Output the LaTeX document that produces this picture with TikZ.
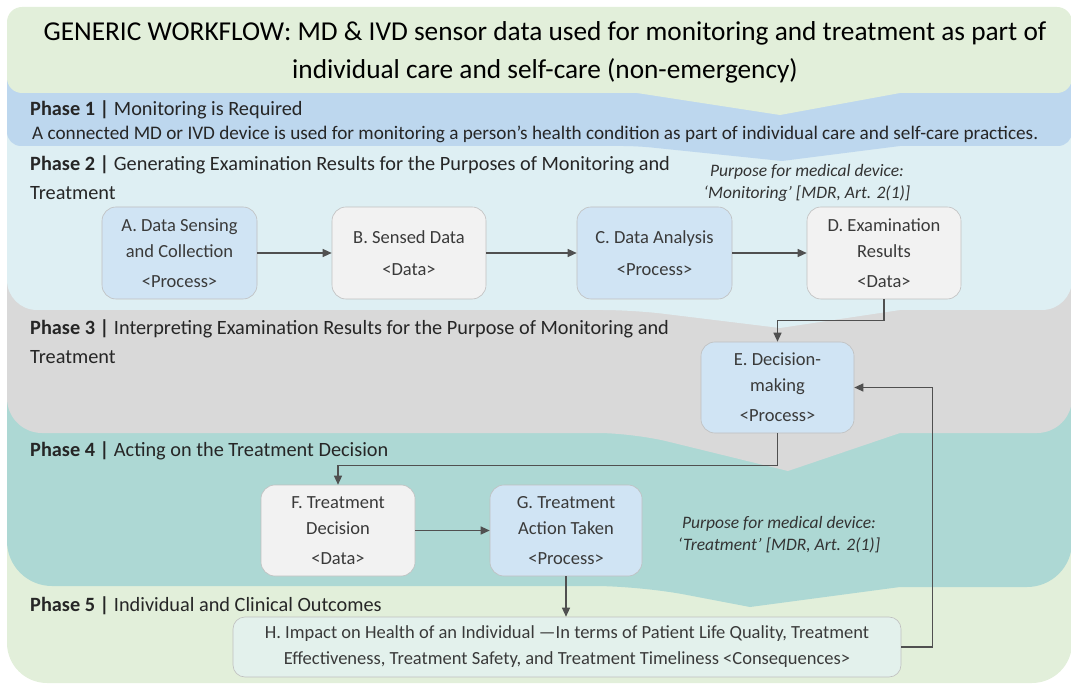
\documentclass[tikz,border=0pt]{standalone}
\usepackage{fontspec}
\setmainfont{Carlito}
\usetikzlibrary{arrows.meta}
\definecolor{cGreen}{HTML}{E2EFDA}
\definecolor{cBlue}{HTML}{BDD7EE}
\definecolor{cCyan}{HTML}{DEEFF3}
\definecolor{cGray}{HTML}{D9D9D9}
\definecolor{cTeal}{HTML}{ADD8D4}
\definecolor{cProc}{HTML}{D0E4F4}
\definecolor{cData}{HTML}{F2F2F2}
\definecolor{cImpact}{HTML}{E3F1EC}
\definecolor{cBorder}{HTML}{BFBFBF}
\definecolor{cText}{HTML}{3A3A3A}
\definecolor{cLine}{HTML}{505050}
\begin{document}
\begin{tikzpicture}[x=1pt,y=-1pt,
  box/.style={draw=cBorder, line width=0.6pt, rounded corners=14pt, align=center, text=cText,
    font=\fontsize{18.5}{26}\selectfont, inner sep=0pt},
  proc/.style={box, fill=cProc},
  datbox/.style={box, fill=cData},
  lbl/.style={inner sep=0pt, text=black!85, font=\fontsize{20.3}{29}\selectfont, align=left},
  desc/.style={inner sep=0pt, text=black!85, font=\fontsize{19.2}{22}\selectfont},
  purpose/.style={inner sep=0pt, text=black!80, align=center, font=\fontsize{17.5}{22}\selectfont\itshape},
  arr/.style={draw=cLine, line width=1.2pt, -{Triangle[length=9pt,width=8pt]}}
]
\useasboundingbox (0,0) rectangle (1071,684);
\clip (0,0) rectangle (1071,684);
% phase 5
\fill[cGreen] (7,540) [rounded corners=40pt] -- (7,683) -- (1072,683) [sharp corners] -- (1072,540) -- cycle;
% phase 4
\fill[cTeal] (7,380) [rounded corners=45pt] -- (7,586) -- (640,586) [sharp corners] -- (750,607) -- (900,587) [rounded corners=45pt] -- (1072,587) [sharp corners] -- (1072,380) -- cycle;
% phase 3
\fill[cGray] (7,260) [rounded corners=35pt] -- (7,433) -- (633,433) [sharp corners] -- (788,471) -- (900,433) [rounded corners=35pt] -- (1072,433) [sharp corners] -- (1072,260) -- cycle;
% phase 2
\fill[cCyan] (7,120) [rounded corners=30pt] -- (7,310) -- (633,310) [sharp corners] -- (780,328) -- (900,310) [rounded corners=30pt] -- (1072,310) [sharp corners] -- (1072,120) -- cycle;
% phase 1
\fill[cBlue] (7,60) [rounded corners=14pt] -- (7,146) -- (637,146) [sharp corners] -- (782,161) -- (900,146) [rounded corners=14pt] -- (1072,146) [sharp corners] -- (1072,60) -- cycle;
% title
\fill[cGreen] (7,40) [rounded corners=15pt] -- (7,7) -- (1072,7) -- (1072,93) [sharp corners] -- (900,93) -- (780,115) -- (637,93) [rounded corners=15pt] -- (7,93) -- cycle;

% texts
\node[inner sep=0pt, align=center, font=\fontsize{27.3}{38}\selectfont, text=black] (title) at (545,52)
  {GENERIC WORKFLOW: MD \& IVD sensor data used for monitoring and treatment as part of\\individual care and self-care (non-emergency)};
\node[lbl, anchor=base west] (p1) at (30,116) {\textbf{Phase 1 |} Monitoring is Required};
\node[desc, anchor=base west] (p1d) at (32,140) {A connected MD or IVD device is used for monitoring a person’s health condition as part of individual care and self-care practices.};
\node[lbl, anchor=north west] (p2) at (30,155) {\textbf{Phase 2 |} Generating Examination Results for the Purposes of Monitoring and\\Treatment};
\node[purpose] (pm) at (807,183) {Purpose for medical device:\\‘Monitoring’ [MDR, Art. 2(1)]};
\node[lbl, anchor=north west] (p3) at (30,319) {\textbf{Phase 3 |} Interpreting Examination Results for the Purpose of Monitoring and\\Treatment};
\node[lbl, anchor=base west] (p4) at (30,456) {\textbf{Phase 4 |} Acting on the Treatment Decision};
\node[purpose] (pt) at (779,535) {Purpose for medical device:\\‘Treatment’ [MDR, Art. 2(1)]};
\node[lbl, anchor=base west] (p5) at (30,611) {\textbf{Phase 5 |} Individual and Clinical Outcomes};

% boxes
\node[proc, minimum width=155pt, minimum height=92pt] (A) at (179.5,253) {A. Data Sensing\\and Collection\\[4pt]<Process>};
\node[datbox, minimum width=154pt, minimum height=92pt] (B) at (409,253) {B. Sensed Data\\[6pt]<Data>};
\node[proc, minimum width=155pt, minimum height=92pt] (C) at (654.5,253) {C. Data Analysis\\[6pt]<Process>};
\node[datbox, minimum width=154pt, minimum height=92pt] (D) at (884,253) {D. Examination\\Results\\[4pt]<Data>};
\node[proc, minimum width=153pt, minimum height=91pt] (E) at (777.5,387.5) {E. Decision-\\making\\[4pt]<Process>};
\node[datbox, minimum width=154pt, minimum height=91pt] (F) at (338,530.5) {F. Treatment\\Decision\\[4pt]<Data>};
\node[proc, minimum width=152pt, minimum height=91pt] (G) at (566,530.5) {G. Treatment\\Action Taken\\[4pt]<Process>};
\node[box, fill=cImpact, rounded corners=12pt, minimum width=668pt, minimum height=60pt] (H) at (567,647)
  {H. Impact on Health of an Individual —In terms of Patient Life Quality, Treatment\\Effectiveness, Treatment Safety, and Treatment Timeliness <Consequences>};

% connectors
\draw[arr] (A) -- (B);
\draw[arr] (B) -- (C);
\draw[arr] (C) -- (D);
\draw[arr] (D.south) -- ++(0,21) -| (E.north);
\draw[arr] (E.south) -- ++(0,32) -| (F.north);
\draw[arr] (F) -- (G);
\draw[arr] (G.south) -- (G.south |- H.north);
\draw[arr] (H.east) -- ++(31,0) |- (E.east);
\end{tikzpicture}
\end{document}
